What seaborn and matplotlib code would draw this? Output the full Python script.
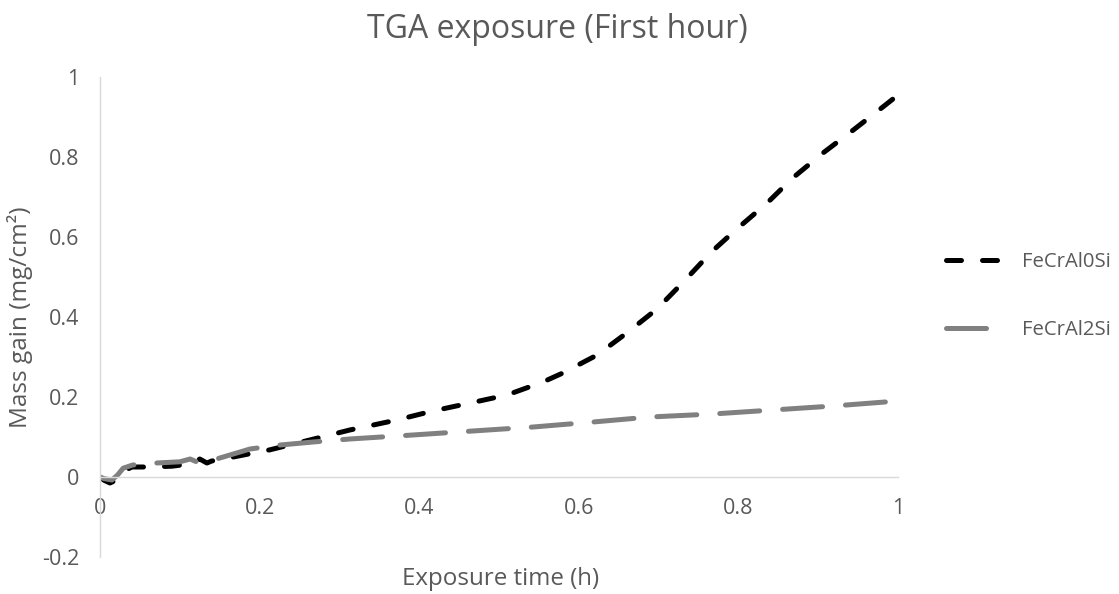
import matplotlib
matplotlib.use("Agg")
import matplotlib.pyplot as plt
import seaborn as sns
import pandas as pd
from matplotlib.ticker import FuncFormatter, MultipleLocator

# ---- data ----
x_0si = [0, 0.005, 0.0125, 0.02, 0.03, 0.04, 0.06, 0.09, 0.11, 0.12, 0.125, 0.134, 0.14,
         0.167, 0.213, 0.272, 0.313, 0.372, 0.417, 0.464, 0.51, 0.555, 0.58, 0.623, 0.66,
         0.698, 0.731, 0.765, 0.773, 0.798, 0.836, 0.868, 0.906, 0.944, 0.981, 1.0]
y_0si = [0, -0.008, -0.015, -0.008, 0.015, 0.025, 0.025, 0.027, 0.032, 0.038, 0.045, 0.035, 0.04,
         0.05, 0.068, 0.097, 0.1175, 0.1425, 0.165, 0.185, 0.205, 0.2375, 0.26, 0.305, 0.36,
         0.42, 0.4875, 0.56, 0.575, 0.62, 0.685, 0.7475, 0.81, 0.8675, 0.925, 0.955]

x_2si = [0, 0.005, 0.015, 0.022, 0.029, 0.041, 0.071, 0.1, 0.113, 0.121, 0.146, 0.188, 0.226,
         0.267, 0.313, 0.392, 0.467, 0.543, 0.618, 0.689, 0.768, 0.843, 0.919, 1.0]
y_2si = [0, -0.004, -0.0075, 0.005, 0.022, 0.03, 0.035, 0.038, 0.045, 0.038, 0.045, 0.07, 0.08,
         0.0875, 0.095, 0.105, 0.115, 0.125, 0.1375, 0.15, 0.1575, 0.1675, 0.1775, 0.19]

labels = ["FeCrAl0Si", "FeCrAl2Si"]
title = "TGA exposure (First hour)"
xlabel = "Exposure time (h)"
ylabel = "Mass gain (mg/cm²)"

df0 = pd.DataFrame({"x": x_0si, "y": y_0si})
df2 = pd.DataFrame({"x": x_2si, "y": y_2si})

sns.set_theme(style="white")
plt.rcParams["font.family"] = ["Open Sans", "DejaVu Sans"]
text_color = "#595959"
axis_color = "#D9D9D9"

fig = plt.figure(figsize=(11.19, 5.94), dpi=100)
ax = fig.add_axes([100/1119, 37/594, 798/1119, 480/594])

sns.lineplot(data=df0, x="x", y="y", ax=ax, color="black", linewidth=3.6,
             linestyle=(0, (3.0, 4.2)), dash_capstyle="round", sort=False,
             estimator=None, label=labels[0])
sns.lineplot(data=df2, x="x", y="y", ax=ax, color="#808080", linewidth=3.6,
             linestyle=(0, (8.0, 4.6)), dash_capstyle="round", sort=False,
             estimator=None, label=labels[1])

ax.set_xlim(0, 1)
ax.set_ylim(-0.2, 1)
ax.xaxis.set_major_locator(MultipleLocator(0.2))
ax.yaxis.set_major_locator(MultipleLocator(0.2))
fmt = FuncFormatter(lambda v, p: ("%g" % round(v, 2)) if abs(v) > 1e-9 else "0")
ax.xaxis.set_major_formatter(fmt)
ax.yaxis.set_major_formatter(fmt)

for s in ["top", "right"]:
    ax.spines[s].set_visible(False)
ax.spines["left"].set_position(("data", 0))
ax.spines["bottom"].set_position(("data", 0))
for s in ["left", "bottom"]:
    ax.spines[s].set_color(axis_color)
    ax.spines[s].set_linewidth(1.0)
ax.tick_params(axis="both", length=0, labelsize=15.5, labelcolor=text_color)
ax.tick_params(axis="y", pad=15)
ax.tick_params(axis="x", pad=15)
ax.set_xlabel("")
ax.set_ylabel("")
ax.grid(False)

fig.text(557/1119, 1 - 30/594, title, ha="center", va="center", fontsize=23, color=text_color)
fig.text(501/1119, 1 - 579/594, xlabel, ha="center", va="center", fontsize=17.4, color=text_color)
fig.text(20/1119, 1 - 317/594, ylabel, ha="center", va="center", rotation=90, fontsize=17.6,
         color=text_color)

leg = ax.legend(loc="center left", bbox_to_anchor=(928/1119, 1 - 296/594),
                bbox_transform=fig.transFigure, frameon=False, fontsize=14.6,
                handlelength=2.95, labelspacing=2.35, handletextpad=0.8)
for t in leg.get_texts():
    t.set_color(text_color)

fig.savefig("out.png", dpi=100)
